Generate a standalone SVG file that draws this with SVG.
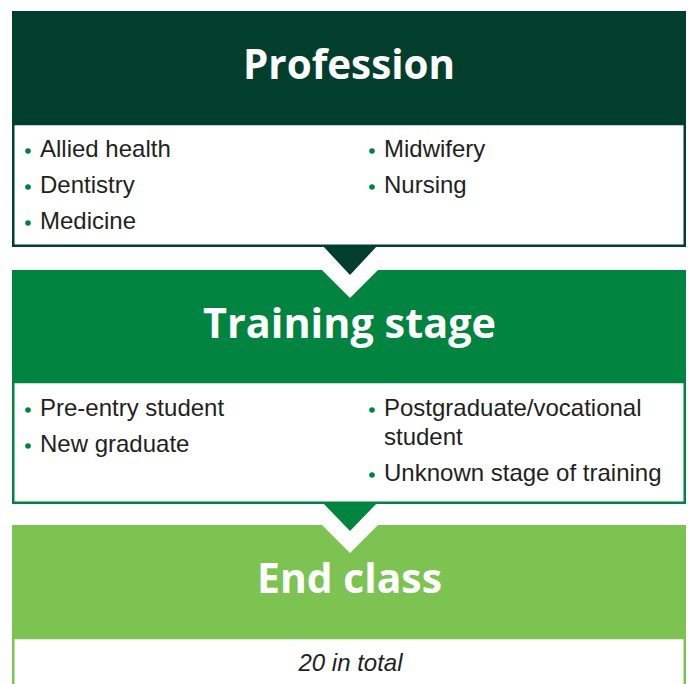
<svg xmlns="http://www.w3.org/2000/svg" width="691" height="684" viewBox="0 0 691 684">
<style>
.title{font-family:"Open Sans","Noto Sans",sans-serif;font-weight:700;font-size:42px;fill:#ffffff;text-anchor:middle}
.item{font-family:"Liberation Sans",Arial,sans-serif;font-size:24px;fill:#231f20}
.b1{fill:#00823f}
.dark{fill:#013f2c}
.mid{fill:#00843f}
.light{fill:#7dc352}
</style>
<rect width="691" height="684" fill="#ffffff"/>
<g id="profession">
<rect x="12" y="11" width="674" height="114" class="dark"/>
<text x="349" y="79" class="title" textLength="212" lengthAdjust="spacingAndGlyphs">Profession</text>
<rect x="13.25" y="124" width="671.5" height="121.75" fill="#ffffff" stroke="#013f2c" stroke-width="2.5"/>
<g class="item">
<text x="40" y="157">Allied health</text>
<text x="40" y="193">Dentistry</text>
<text x="40" y="229">Medicine</text>
<text x="384" y="157">Midwifery</text>
<text x="384" y="193">Nursing</text>
</g>
<g class="b1">
<circle cx="28" cy="151" r="2.8"/><circle cx="28" cy="187" r="2.8"/><circle cx="28" cy="223" r="2.8"/>
<circle cx="372" cy="151" r="2.8"/><circle cx="372" cy="187" r="2.8"/>
</g>
</g>
<g id="training-stage">
<rect x="12" y="270" width="674" height="113" class="mid"/>
<text x="349.5" y="338" class="title" textLength="293" lengthAdjust="spacingAndGlyphs">Training stage</text>
<rect x="13.25" y="382" width="671.5" height="120.75" fill="#ffffff" stroke="#00843f" stroke-width="2.5"/>
<g class="item">
<text x="40" y="416">Pre-entry student</text>
<text x="40" y="452">New graduate</text>
<text x="384" y="416">Postgraduate/vocational</text>
<text x="384" y="445">student</text>
<text x="384" y="481">Unknown stage of training</text>
</g>
<g class="b1">
<circle cx="28" cy="410" r="2.8"/><circle cx="28" cy="446" r="2.8"/>
<circle cx="372" cy="410" r="2.8"/><circle cx="372" cy="475" r="2.8"/>
</g>
</g>
<g id="end-class">
<rect x="12" y="525" width="674" height="114" class="light"/>
<text x="349.5" y="593" class="title" textLength="185" lengthAdjust="spacingAndGlyphs">End class</text>
<rect x="13.25" y="638" width="671.5" height="60" fill="#ffffff" stroke="#7dc352" stroke-width="2.5"/>
<text x="350.5" y="671" class="item" font-style="italic" text-anchor="middle">20 in total</text>
</g>
<g id="connectors">
<polygon points="321,269 379,269 350,298" fill="#ffffff"/>
<polygon points="322,245 378,245 350,275" class="dark"/>
<polygon points="321,524 379,524 350,553" fill="#ffffff"/>
<polygon points="322,502 378,502 350,531" class="mid"/>
</g>
</svg>
